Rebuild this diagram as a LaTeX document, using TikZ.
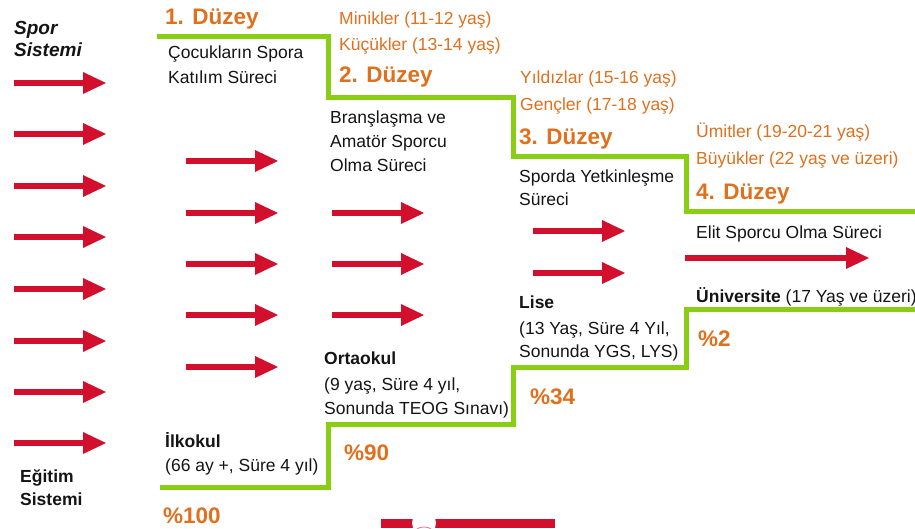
\documentclass[tikz,border=0pt]{standalone}
\usepackage{fontspec}
\setmainfont{Liberation Sans}
\usetikzlibrary{arrows.meta}
\definecolor{myred}{RGB}{210,16,46}
\definecolor{myorange}{RGB}{222,112,30}
\definecolor{mygreen}{RGB}{138,206,20}
\definecolor{mytext}{RGB}{20,20,20}
\begin{document}
\begin{tikzpicture}[x=1pt,y=-1pt,
 txt/.style={anchor=base west, inner sep=0pt, font=\fontsize{17.5}{20}\selectfont, text=mytext},
 otxt/.style={txt, text=myorange},
 btxt/.style={txt, font=\fontsize{17.5}{20}\selectfont\bfseries},
 bitxt/.style={txt, font=\fontsize{19}{20}\selectfont\bfseries\itshape},
 lvl/.style={anchor=base west, inner sep=0pt, font=\fontsize{22.5}{26}\selectfont\bfseries, text=myorange},
 redarrow/.style={draw=myred, line width=5.5pt, -{Triangle[length=23pt,width=22pt,line width=0pt]}},
 stair/.style={draw=mygreen, line width=5pt, line join=miter}
]
\useasboundingbox (0,0) rectangle (915,528);

% red arrows
\foreach \i/\y in {1/83,2/134,3/186,4/237,5/289,6/341,7/392,8/443}{
  \coordinate (a\i s) at (14,\y); \coordinate (a\i e) at (106,\y);
  \draw[redarrow] (a\i s) -- (a\i e);}
\foreach \i/\y in {1/161,2/213,3/264,4/315,5/367}{
  \coordinate (b\i s) at (186,\y); \coordinate (b\i e) at (278,\y);
  \draw[redarrow] (b\i s) -- (b\i e);}
\foreach \i/\y in {1/213,2/264,3/315}{
  \coordinate (c\i s) at (332,\y); \coordinate (c\i e) at (424,\y);
  \draw[redarrow] (c\i s) -- (c\i e);}
\foreach \i/\y in {1/231,2/273}{
  \coordinate (d\i s) at (533,\y); \coordinate (d\i e) at (625,\y);
  \draw[redarrow] (d\i s) -- (d\i e);}
\coordinate (e1s) at (685,258); \coordinate (e1e) at (869,258);
\draw[redarrow] (e1s) -- (e1e);

% green staircases
\coordinate (t0) at (157,36); \coordinate (t1) at (328,36); \coordinate (t2) at (328,97);
\coordinate (t3) at (513,97); \coordinate (t4) at (513,156); \coordinate (t5) at (686,156);
\coordinate (t6) at (686,211); \coordinate (t7) at (915,211);
\draw[stair] (t0) -- (t1) -- (t2) -- (t3) -- (t4) -- (t5) -- (t6) -- (t7);
\coordinate (u0) at (160,487); \coordinate (u1) at (328,487); \coordinate (u2) at (328,424);
\coordinate (u3) at (513,424); \coordinate (u4) at (513,367); \coordinate (u5) at (686,367);
\coordinate (u6) at (686,309); \coordinate (u7) at (915,309);
\draw[stair] (u0) -- (u1) -- (u2) -- (u3) -- (u4) -- (u5) -- (u6) -- (u7);

% left labels
\node[bitxt] (spor1) at (14,34) {Spor};
\node[bitxt] (spor2) at (14,56) {Sistemi};
\node[btxt] (egt1) at (20,482) {Eğitim};
\node[btxt] (egt2) at (20,505) {Sistemi};

% level 1
\node[lvl] (d1) at (165,24) {1. Düzey};
\node[txt] (l1a) at (168,58) {Çocukların Spora};
\node[txt] (l1b) at (168,83) {Katılım Süreci};
% level 2
\node[otxt] (m1) at (339,24) {Minikler (11-12 yaş)};
\node[otxt] (m2) at (339,50) {Küçükler (13-14 yaş)};
\node[lvl] (d2) at (339,82) {2. Düzey};
\node[txt] (l2a) at (330,123) {Branşlaşma ve};
\node[txt] (l2b) at (330,147) {Amatör Sporcu};
\node[txt] (l2c) at (330,171) {Olma Süreci};
% level 3
\node[otxt] (y1) at (520,83) {Yıldızlar (15-16 yaş)};
\node[otxt] (y2) at (520,110) {Gençler (17-18 yaş)};
\node[lvl] (d3) at (519,144) {3. Düzey};
\node[txt] (l3a) at (519,182) {Sporda Yetkinleşme};
\node[txt] (l3b) at (519,205) {Süreci};
% level 4
\node[otxt] (u1t) at (696,137) {Ümitler (19-20-21 yaş)};
\node[otxt] (u2t) at (696,164) {Büyükler (22 yaş ve üzeri)};
\node[lvl] (d4) at (696,199) {4. Düzey};
\node[txt] (l4a) at (696,238) {Elit Sporcu Olma Süreci};

% education
\node[txt] (uni) at (696,302) {\textbf{Üniversite} (17 Yaş ve üzeri)};
\node[lvl] (p2) at (698,346) {\%2};
\node[btxt] (lise) at (519,308) {Lise};
\node[txt] (lise2) at (519,334) {(13 Yaş, Süre 4 Yıl,};
\node[txt] (lise3) at (519,357) {Sonunda YGS, LYS)};
\node[lvl] (p34) at (530,404) {\%34};
\node[btxt] (orta) at (324,364) {Ortaokul};
\node[txt] (orta2) at (324,390) {(9 yaş, Süre 4 yıl,};
\node[txt] (orta3) at (324,414) {Sonunda TEOG Sınavı)};
\node[lvl] (p90) at (344,460) {\%90};
\node[btxt] (ilk) at (165,447) {İlkokul};
\node[txt] (ilk2) at (165,471) {(66 ay +, Süre 4 yıl)};
\node[lvl] (p100) at (163,523) {\%100};

% cropped logo at bottom
\begin{scope}
\clip (381,519) rectangle (555,528);
\fill[myred] (381,519) rectangle (555,528);
\fill[white] (424,523) circle (12);
\draw[myred!60, line width=0.8pt] (424,541) circle (14);
\end{scope}
\end{tikzpicture}
\end{document}
